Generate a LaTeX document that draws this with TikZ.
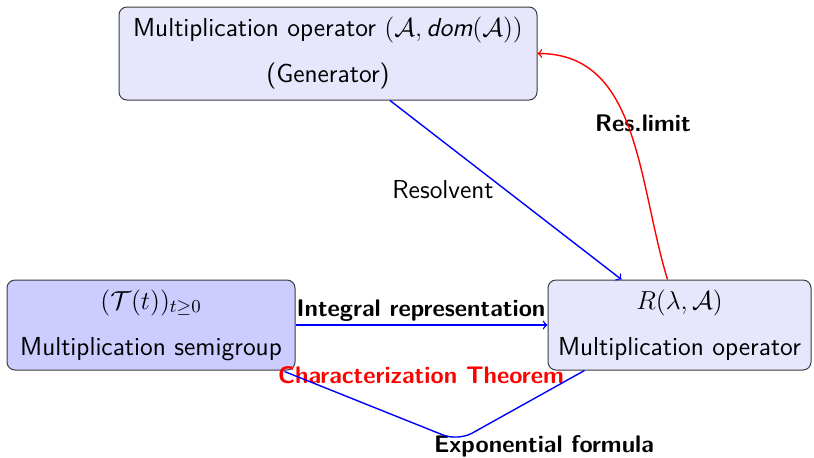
\RequirePackage{fix-cm}
\documentclass[tikz,border=0pt]{standalone}
\usepackage{fontspec}
\usepackage{amssymb}
\definecolor{boxlight}{RGB}{230,230,252}
\definecolor{boxdark}{RGB}{204,204,255}
\definecolor{boxline}{RGB}{60,60,60}
\tikzset{
  box/.style={draw=boxline, line width=0.5pt, rounded corners=4pt, align=center,
    font=\fontsize{13}{15}\selectfont\sffamily, inner sep=0pt},
  link/.style={->, line width=0.7pt},
  lbl/.style={font=\fontsize{12}{14}\selectfont\sffamily\bfseries, inner sep=0pt},
  plain/.style={font=\fontsize{13}{15}\selectfont\sffamily, inner sep=0pt},
}
\begin{document}
\begin{tikzpicture}[x=0.5pt, y=-0.5pt]
  \useasboundingbox (0,0) rectangle (814,457);

  % the three boxes
  \node[box, fill=boxlight, minimum width=209pt, minimum height=46.5pt] (gen) at (328,53.5)
    {Multiplication operator $(\mathcal{A},\textit{dom}(\mathcal{A}))$\\[8pt](Generator)};
  \node[box, fill=boxdark, minimum width=144pt, minimum height=45pt] (sg) at (151,325)
    {$(\mathcal{T}(t))_{t\geq 0}$\\[8pt]Multiplication semigroup};
  \node[box, fill=boxlight, minimum width=131.5pt, minimum height=45pt] (res) at (679.5,325)
    {$R(\lambda,\mathcal{A})$\\[8pt]Multiplication operator};

  % labels
  \node[plain] (lres) at (443,190) {Resolvent};
  \node[lbl] (llim) at (643,123) {Res.limit};
  \node[lbl] (lint) at (421,311) {Integral representation};
  \node[lbl, text=red] (lchar) at (421,375) {Characterization Theorem};
  \node[lbl] (lexp) at (544,446) {Exponential formula};

  % connectors
  \draw[link, blue] (sg.east) -- (res.west);
  \draw[link, blue] ([xshift=31pt]gen.south) -- ([xshift=-29pt]res.north);
  \draw[link, red] ([xshift=-6pt]res.north) to[out=107, in=0] (gen.east);
  \coordinate (bend) at (458,441);
  \draw[line width=0.7pt, blue, rounded corners=8pt] ([xshift=18.5pt]res.south west) -- (bend) -- ([xshift=-5.5pt,yshift=-0.5pt]sg.south east);
\end{tikzpicture}
\end{document}
